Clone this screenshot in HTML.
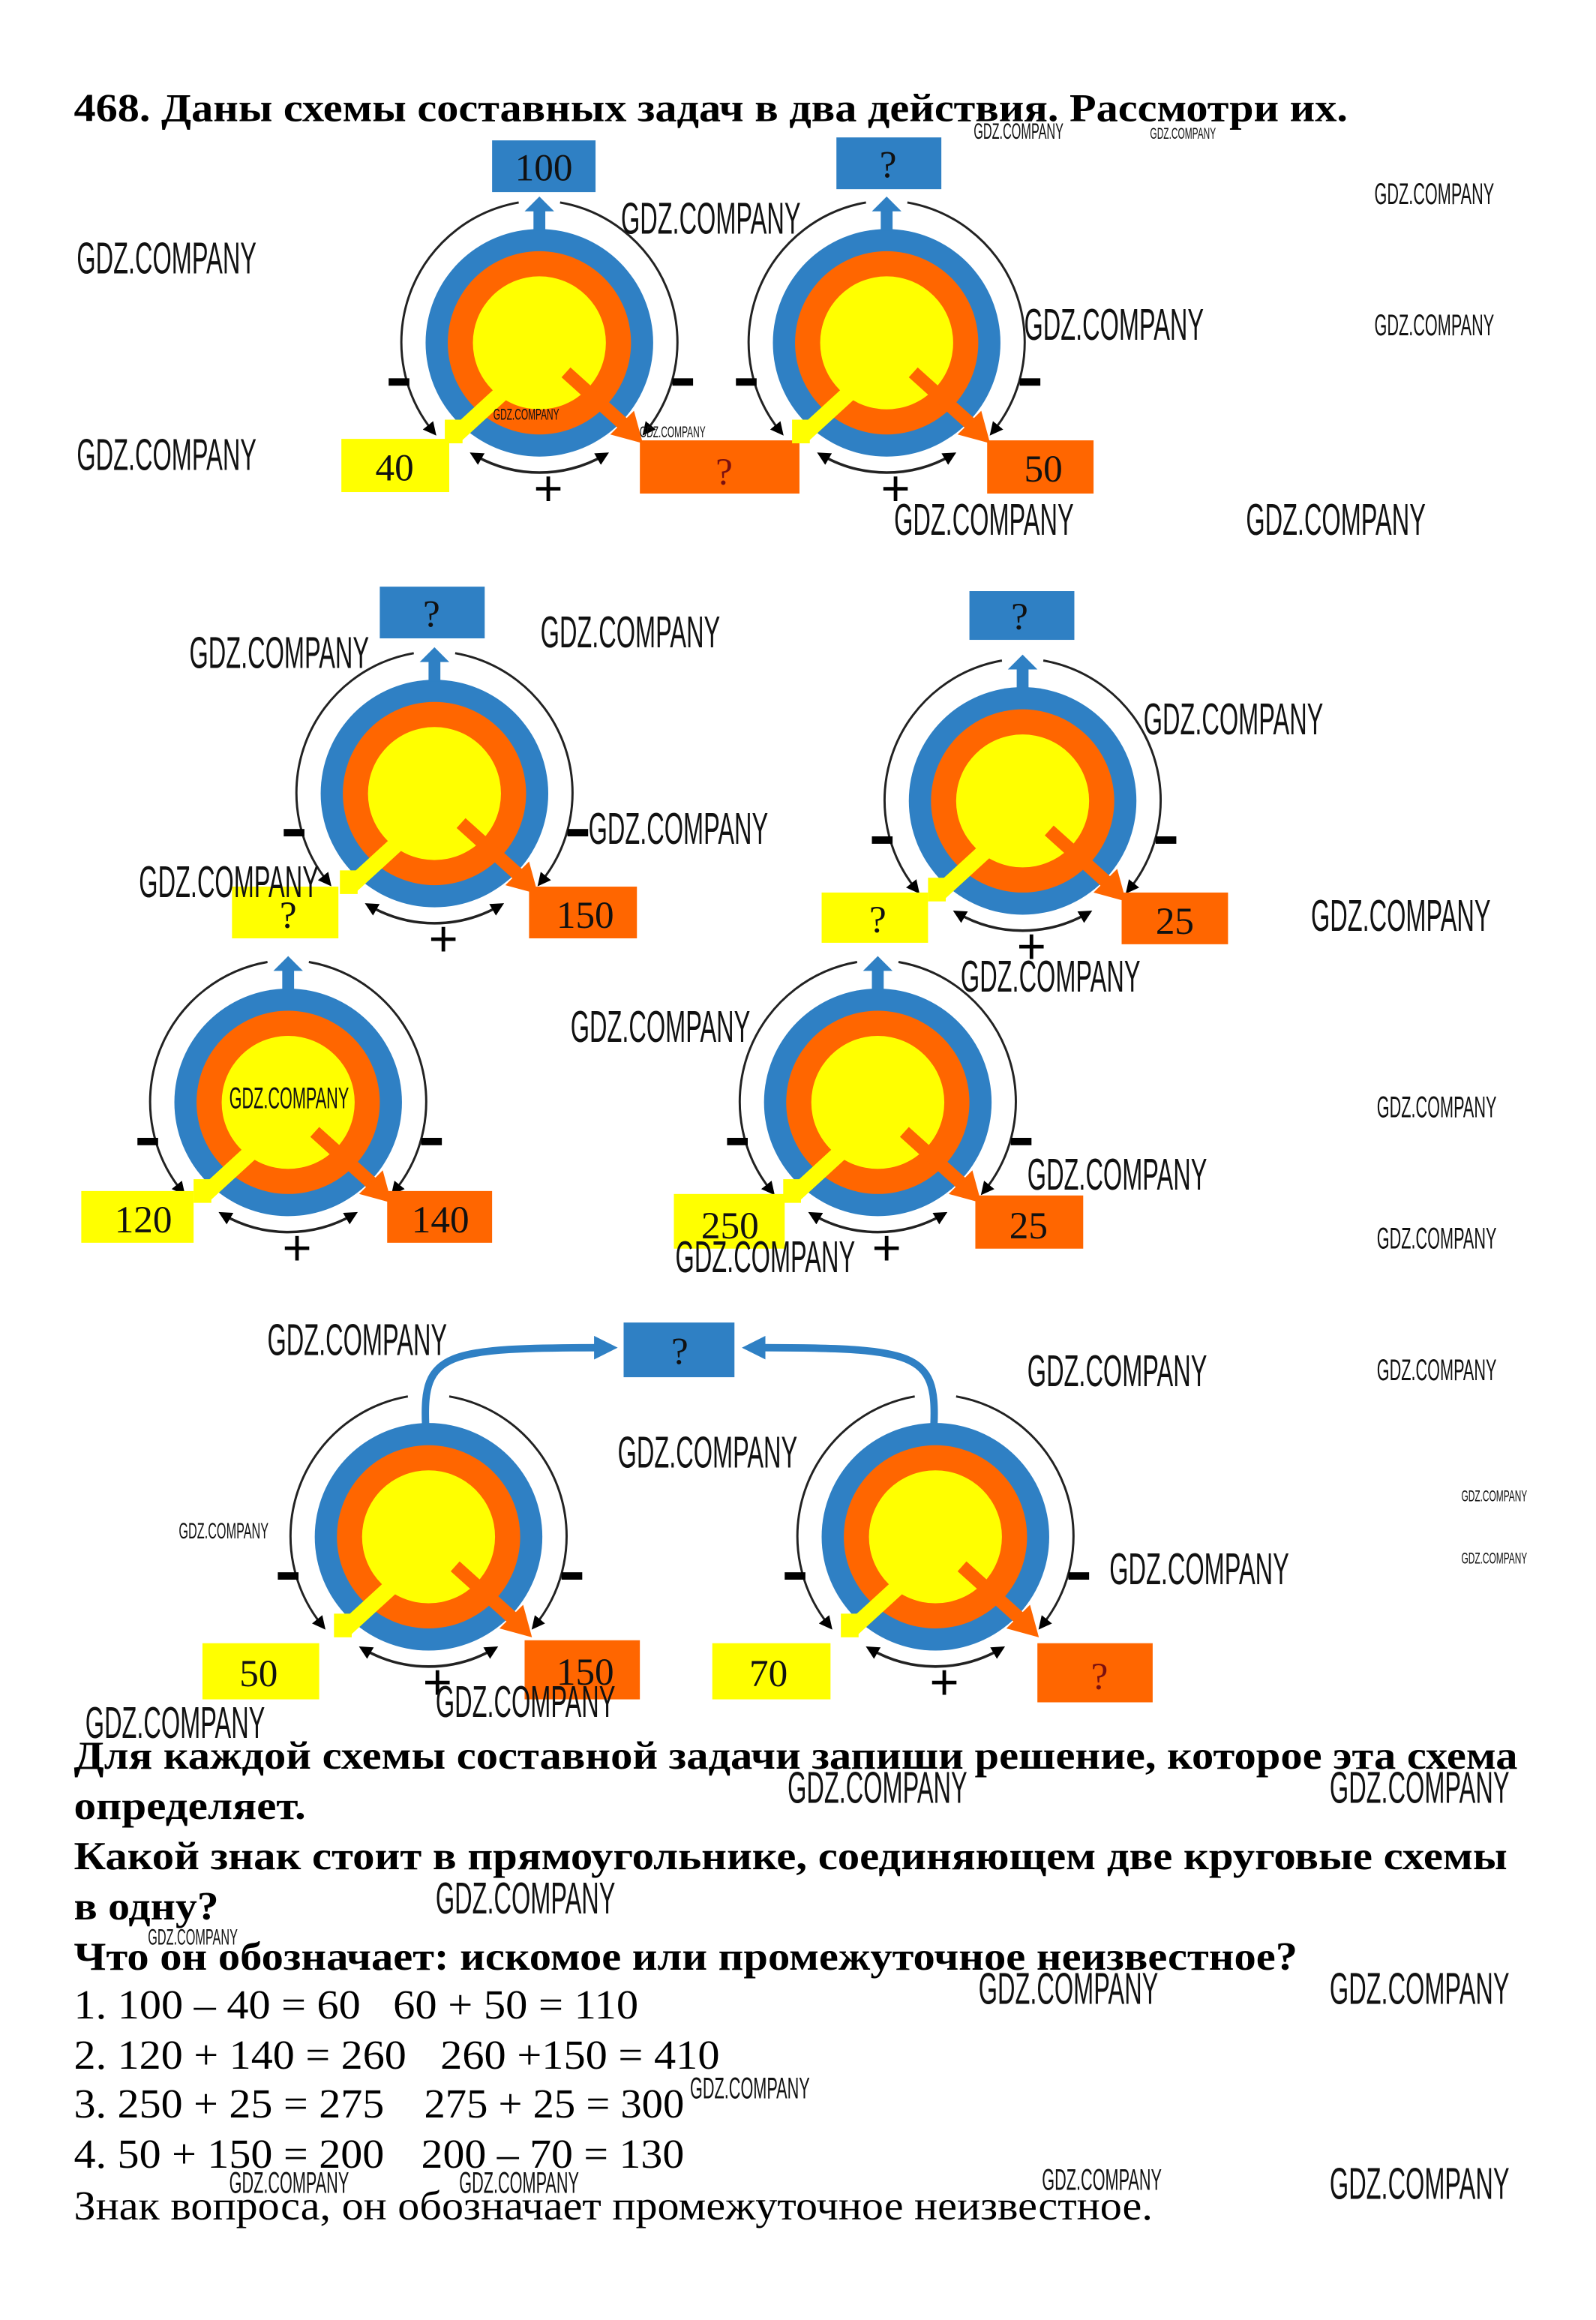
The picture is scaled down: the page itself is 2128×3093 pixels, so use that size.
<!DOCTYPE html>
<html><head><meta charset="utf-8"><style>
html,body{margin:0;padding:0;background:#fff;}
svg{display:block;}
.w{font-family:"Liberation Sans",sans-serif;fill:#111;}
.h{font-family:"Liberation Serif","Noto Serif CJK SC",serif;font-weight:bold;font-size:27px;fill:#000;}
.r{font-family:"Liberation Serif","Noto Serif CJK SC",serif;font-size:28px;fill:#000;}
.n{font-family:"Liberation Serif",serif;font-size:26px;fill:#111;text-anchor:middle;}
.s{font-family:"Liberation Sans",sans-serif;font-size:34px;fill:#000;text-anchor:middle;}
</style></head><body>
<svg width="2128" height="3093" viewBox="0 0 1080 1570" preserveAspectRatio="none" xmlns="http://www.w3.org/2000/svg">
<defs>
<marker id="ah" viewBox="0 0 10 10" refX="6" refY="5" markerWidth="9" markerHeight="9" markerUnits="userSpaceOnUse" orient="auto-start-reverse"><path d="M0,0 L10,5 L0,10 z" fill="#000"/></marker>
<marker id="bh" viewBox="0 0 10 10" refX="5" refY="5" markerWidth="16" markerHeight="16" markerUnits="userSpaceOnUse" orient="auto"><path d="M0,0 L10,5 L0,10 z" fill="#2f80c4"/></marker>
<g id="d">
<circle r="77" fill="#2f80c4"/>
<circle r="62" fill="#ff6600"/>
<circle r="45" fill="#ffff00"/>
<line x1="-8" y1="18" x2="-56" y2="62" stroke="#ffff00" stroke-width="11"/>
<rect x="-64" y="52" width="12" height="16" fill="#ffff00"/>
<line x1="18" y1="20" x2="58" y2="56" stroke="#ff6600" stroke-width="9"/>
<polygon points="70,68 48,62 64,46" fill="#ff6600"/>
<path d="M-14,-95 A96 96 0 0 0 -72,60" fill="none" stroke="#222" stroke-width="1.5" marker-end="url(#ah)"/>
<path d="M14,-95 A96 96 0 0 1 72,60" fill="none" stroke="#222" stroke-width="1.5" marker-end="url(#ah)"/>
<path d="M-44,76 A88 88 0 0 0 44,76" fill="none" stroke="#222" stroke-width="1.8" marker-start="url(#ah)" marker-end="url(#ah)"/>
<rect x="-102" y="24" width="14" height="5" fill="#000"/>
<rect x="90" y="24" width="14" height="5" fill="#000"/>
<text x="6" y="110" class="s">+</text>
</g>
<g id="up">
<rect x="-4" y="-90" width="8" height="14" fill="#2f80c4"/>
<polygon points="-10,-89 10,-89 0,-99" fill="#2f80c4"/>
</g>
</defs>

<text x="50" y="82" class="h" textLength="862" lengthAdjust="spacingAndGlyphs">468. Даны схемы составных задач в два действия. Рассмотри их.</text>

<use href="#d" x="365" y="232"/><use href="#up" x="365" y="232"/>
<rect x="333" y="95" width="70" height="35" fill="#2f80c4"/><text x="368" y="122" class="n">100</text>
<rect x="231" y="297" width="73" height="36" fill="#ffff00"/><text x="267" y="325" class="n">40</text>
<rect x="433" y="298" width="108" height="36" fill="#ff6600"/><text x="490" y="328" class="n" style="fill:#7a1010">?</text>

<use href="#d" x="600" y="232"/><use href="#up" x="600" y="232"/>
<rect x="566" y="93" width="71" height="35" fill="#2f80c4"/><text x="601" y="120" class="n">?</text>
<rect x="668" y="298" width="72" height="36" fill="#ff6600"/><text x="706" y="326" class="n">50</text>

<use href="#d" x="294" y="537"/><use href="#up" x="294" y="537"/>
<rect x="257" y="397" width="71" height="35" fill="#2f80c4"/><text x="292" y="424" class="n">?</text>
<rect x="157" y="600" width="72" height="35" fill="#ffff00"/><text x="195" y="628" class="n">?</text>
<rect x="358" y="600" width="73" height="35" fill="#ff6600"/><text x="396" y="628" class="n">150</text>

<use href="#d" x="692" y="542"/><use href="#up" x="692" y="542"/>
<rect x="656" y="400" width="71" height="33" fill="#2f80c4"/><text x="690" y="426" class="n">?</text>
<rect x="556" y="604" width="72" height="34" fill="#ffff00"/><text x="594" y="631" class="n">?</text>
<rect x="759" y="604" width="72" height="35" fill="#ff6600"/><text x="795" y="632" class="n">25</text>

<use href="#d" x="195" y="746"/><use href="#up" x="195" y="746"/>
<rect x="55" y="806" width="76" height="35" fill="#ffff00"/><text x="97" y="834" class="n">120</text>
<rect x="262" y="806" width="71" height="35" fill="#ff6600"/><text x="298" y="834" class="n">140</text>

<use href="#d" x="594" y="746"/><use href="#up" x="594" y="746"/>
<rect x="456" y="808" width="75" height="37" fill="#ffff00"/><text x="494" y="838" class="n">250</text>
<rect x="660" y="809" width="73" height="36" fill="#ff6600"/><text x="696" y="838" class="n">25</text>

<use href="#d" x="290" y="1040"/>
<use href="#d" x="633" y="1040"/>
<path d="M288,964 C286,915 300,912 410,912" fill="none" stroke="#2f80c4" stroke-width="5" marker-end="url(#bh)"/>
<path d="M632,964 C634,915 620,912 510,912" fill="none" stroke="#2f80c4" stroke-width="5" marker-end="url(#bh)"/>
<rect x="422" y="895" width="75" height="37" fill="#2f80c4"/><text x="460" y="923" class="n">?</text>
<rect x="137" y="1112" width="79" height="38" fill="#ffff00"/><text x="175" y="1141" class="n">50</text>
<rect x="355" y="1110" width="78" height="40" fill="#ff6600"/><text x="396" y="1140" class="n">150</text>
<rect x="482" y="1112" width="80" height="38" fill="#ffff00"/><text x="520" y="1141" class="n">70</text>
<rect x="702" y="1112" width="78" height="40" fill="#ff6600"/><text x="744" y="1143" class="n" style="fill:#7a1010">?</text>

<text x="50" y="1197" class="h" textLength="977" lengthAdjust="spacingAndGlyphs">Для каждой схемы составной задачи запиши решение, которое эта схема</text>
<text x="50" y="1231" class="h" textLength="157" lengthAdjust="spacingAndGlyphs">определяет.</text>
<text x="50" y="1265" class="h" textLength="970" lengthAdjust="spacingAndGlyphs">Какой знак стоит в прямоугольнике, соединяющем две круговые схемы</text>
<text x="50" y="1299" class="h" textLength="98" lengthAdjust="spacingAndGlyphs">в одну?</text>
<text x="50" y="1333" class="h" textLength="828" lengthAdjust="spacingAndGlyphs">Что он обозначает: искомое или промежуточное неизвестное?</text>
<text x="50" y="1366" class="r" textLength="194" lengthAdjust="spacingAndGlyphs">1. 100 – 40 = 60</text>
<text x="266" y="1366" class="r" textLength="166" lengthAdjust="spacingAndGlyphs">60 + 50 = 110</text>
<text x="50" y="1400" class="r" textLength="225" lengthAdjust="spacingAndGlyphs">2. 120 + 140 = 260</text>
<text x="298" y="1400" class="r" textLength="189" lengthAdjust="spacingAndGlyphs">260 +150 = 410</text>
<text x="50" y="1433" class="r" textLength="210" lengthAdjust="spacingAndGlyphs">3. 250 + 25 = 275</text>
<text x="287" y="1433" class="r" textLength="176" lengthAdjust="spacingAndGlyphs">275 + 25 = 300</text>
<text x="50" y="1467" class="r" textLength="210" lengthAdjust="spacingAndGlyphs">4. 50 + 150 = 200</text>
<text x="285" y="1467" class="r" textLength="178" lengthAdjust="spacingAndGlyphs">200 – 70 = 130</text>
<text x="50" y="1502" class="r" textLength="730" lengthAdjust="spacingAndGlyphs">Знак вопроса, он обозначает промежуточное неизвестное.</text>

<g class="w">
<g font-size="30" transform="scale(0.55,1)">
<text x="94.5" y="185">GDZ.COMPANY</text>
<text x="94.5" y="318">GDZ.COMPANY</text>
<text x="764" y="158">GDZ.COMPANY</text>
<text x="1260" y="230">GDZ.COMPANY</text>
<text x="1100" y="362">GDZ.COMPANY</text>
<text x="1533" y="362">GDZ.COMPANY</text>
<text x="233" y="452">GDZ.COMPANY</text>
<text x="665" y="438">GDZ.COMPANY</text>
<text x="1407" y="497">GDZ.COMPANY</text>
<text x="724" y="571">GDZ.COMPANY</text>
<text x="171" y="607">GDZ.COMPANY</text>
<text x="1613" y="630">GDZ.COMPANY</text>
<text x="1182" y="671">GDZ.COMPANY</text>
<text x="702" y="705">GDZ.COMPANY</text>
<text x="1264" y="805">GDZ.COMPANY</text>
<text x="831" y="861">GDZ.COMPANY</text>
<text x="329" y="917">GDZ.COMPANY</text>
<text x="1264" y="938">GDZ.COMPANY</text>
<text x="760" y="993">GDZ.COMPANY</text>
<text x="1365" y="1072">GDZ.COMPANY</text>
<text x="536" y="1162">GDZ.COMPANY</text>
<text x="105" y="1176">GDZ.COMPANY</text>
<text x="969" y="1220">GDZ.COMPANY</text>
<text x="1636" y="1220">GDZ.COMPANY</text>
<text x="536" y="1295">GDZ.COMPANY</text>
<text x="1204" y="1356">GDZ.COMPANY</text>
<text x="1636" y="1356">GDZ.COMPANY</text>
<text x="1636" y="1488">GDZ.COMPANY</text>
</g>
<g font-size="20" transform="scale(0.55,1)">
<text x="1691" y="138">GDZ.COMPANY</text>
<text x="1691" y="227">GDZ.COMPANY</text>
<text x="1694" y="756">GDZ.COMPANY</text>
<text x="1694" y="845">GDZ.COMPANY</text>
<text x="1694" y="934">GDZ.COMPANY</text>
<text x="282" y="750">GDZ.COMPANY</text>
<text x="849" y="1420">GDZ.COMPANY</text>
<text x="282" y="1484">GDZ.COMPANY</text>
<text x="565" y="1484">GDZ.COMPANY</text>
<text x="1282" y="1482">GDZ.COMPANY</text>
</g>
<g font-size="15" transform="scale(0.55,1)">
<text x="220" y="1041">GDZ.COMPANY</text>
<text x="182" y="1316">GDZ.COMPANY</text>
<text x="1198" y="94">GDZ.COMPANY</text>
</g>
<g font-size="11" transform="scale(0.55,1)">
<text x="607" y="284">GDZ.COMPANY</text>
<text x="787" y="296">GDZ.COMPANY</text>
<text x="1415" y="94">GDZ.COMPANY</text>
<text x="1798" y="1016">GDZ.COMPANY</text>
<text x="1798" y="1058">GDZ.COMPANY</text>
</g>
</g>
</svg>
</body></html>
